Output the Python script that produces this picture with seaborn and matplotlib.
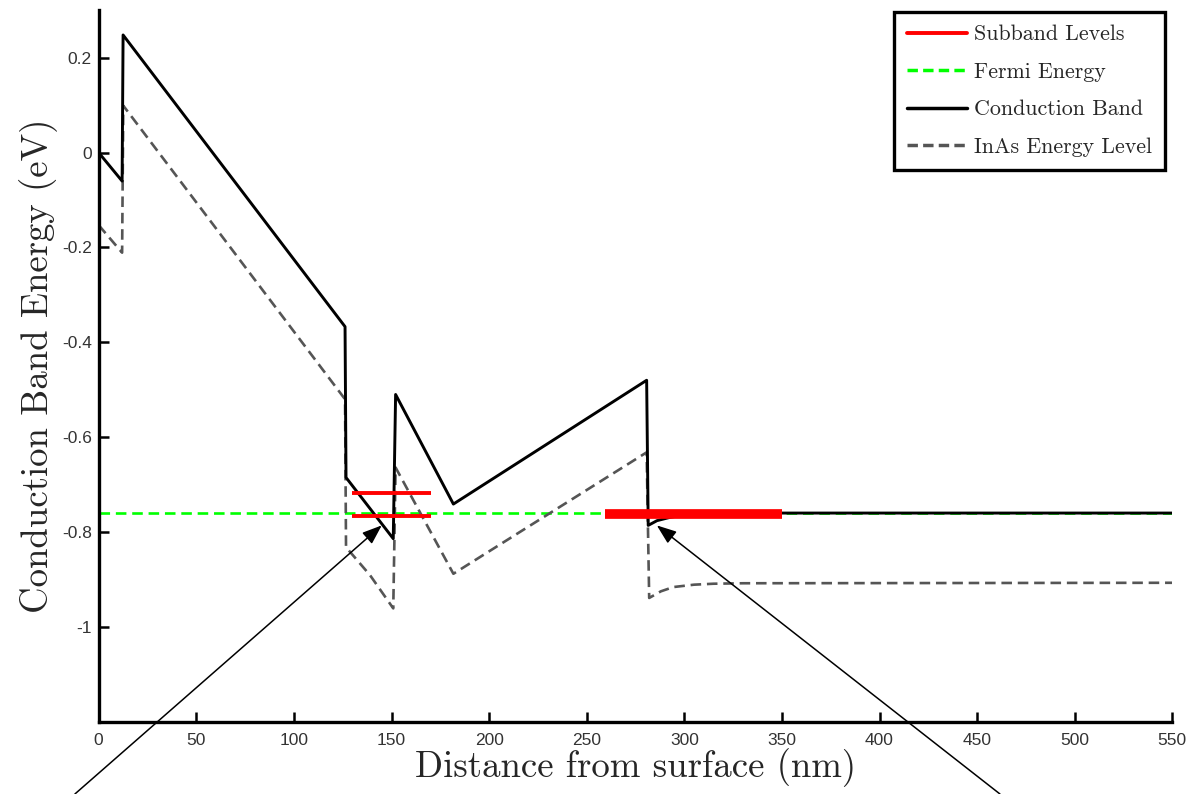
import numpy as np
import pandas as pd
import seaborn as sns
import matplotlib.pyplot as plt
from matplotlib.lines import Line2D

# conduction band profile (nm, eV)
cb_x = [0, 12.0, 12.5, 126.2, 126.7, 150.9, 152.1, 181.7, 280.7, 281.5, 286, 292.7, 300, 320, 350, 550]
cb_y = [0.0, -0.06, 0.248, -0.367, -0.685, -0.814, -0.51, -0.741, -0.48, -0.786, -0.776, -0.769, -0.764, -0.761, -0.760, -0.760]

# InAs energy level profile
inas_x = [0, 12.0, 12.6, 126.2, 126.7, 139.0, 150.9, 152.1, 181.7, 280.7, 282.0, 288, 294.4, 305, 314.9, 330, 550]
inas_y = [-0.153, -0.211, 0.099, -0.52, -0.832, -0.891, -0.961, -0.664, -0.888, -0.632, -0.939, -0.925, -0.916, -0.911, -0.909, -0.908, -0.907]

# Fermi energy
fermi_x = [0, 550]
fermi_y = [-0.76, -0.76]

# subband levels: start, end, energy
sub_start = [129.6, 129.6, 259.5]
sub_end = [170.0, 170.0, 350.0]
sub_energy = [-0.718, -0.766, -0.762]
sub_width = [2.8, 2.8, 7.0]

# arrow tips (data) and tails (figure fraction)
arrow_tips = [(145.0, -0.786), (285.9, -0.786)]
arrow_tails = [(0.063, 0.0), (0.841, 0.0)]

sns.set_style('white')
plt.rcParams['font.family'] = ['Liberation Sans', 'DejaVu Sans']

fig = plt.figure(figsize=(11.89, 7.94), dpi=100)
ax = fig.add_axes([0.083, 0.091, 0.903, 0.896])

cb = pd.DataFrame({'x': cb_x, 'y': cb_y})
inas = pd.DataFrame({'x': inas_x, 'y': inas_y})
fermi = pd.DataFrame({'x': fermi_x, 'y': fermi_y})

sns.lineplot(data=fermi, x='x', y='y', estimator=None, sort=False, color='#00ff00', lw=1.9,
             linestyle=(0, (4, 2.2)), ax=ax, zorder=2)
sns.lineplot(data=inas, x='x', y='y', estimator=None, sort=False, color='#555555', lw=1.9,
             linestyle=(0, (4, 2.2)), ax=ax, zorder=2)
sns.lineplot(data=cb, x='x', y='y', estimator=None, sort=False, color='black', lw=2.1, ax=ax, zorder=3)
for s, e, en, w in zip(sub_start, sub_end, sub_energy, sub_width):
    ax.plot([s, e], [en, en], color='#ff0000', lw=w, solid_capstyle='butt', zorder=4)

for tip, tail in zip(arrow_tips, arrow_tails):
    ax.annotate('', xy=tip, xycoords='data', xytext=tail, textcoords='figure fraction',
                arrowprops=dict(arrowstyle='-|>,head_length=1.2,head_width=0.45', color='black', lw=1.1,
                                shrinkA=0, shrinkB=0),
                annotation_clip=False, zorder=6)

ax.set_xlim(0, 550)
ax.set_ylim(-1.2, 0.3)
ax.set_xticks(np.arange(0, 551, 50))
ax.set_yticks([0.2, 0, -0.2, -0.4, -0.6, -0.8, -1])
ax.set_yticklabels(['0.2', '0', '-0.2', '-0.4', '-0.6', '-0.8', '-1'])
ax.tick_params(bottom=True, left=True, direction='in', length=7, width=1.8, labelsize=12.5,
               colors='black', labelcolor='#333333')
ax.tick_params(axis='x', pad=8)
ax.tick_params(axis='y', pad=5)
for side in ['top', 'right']:
    ax.spines[side].set_visible(False)
for side in ['left', 'bottom']:
    ax.spines[side].set_linewidth(2.4)
    ax.spines[side].set_color('black')

ax.set_xlabel('Distance from surface (nm)', family='cmr10', fontsize=26.5, labelpad=0)
ax.set_ylabel('Conduction Band Energy (eV)', family='cmr10', fontsize=26.5, labelpad=3)

handles = [
    Line2D([], [], color='#ff0000', lw=2.8),
    Line2D([], [], color='#00ff00', lw=2.5, linestyle=(0, (3, 1.5))),
    Line2D([], [], color='black', lw=2.5),
    Line2D([], [], color='#555555', lw=2.5, linestyle=(0, (3, 1.5))),
]
labels = ['Subband Levels', 'Fermi Energy', 'Conduction Band', 'InAs Energy Level']
leg = ax.legend(handles, labels, loc='upper right', bbox_to_anchor=(0.9935, 0.998),
                prop={'family': 'cmr10', 'size': 15.8},
                frameon=True, fancybox=False, framealpha=1, edgecolor='black', handlelength=2.7,
                handletextpad=0.35, labelspacing=0.82, borderpad=0.6, borderaxespad=0)
leg.get_frame().set_linewidth(2.4)

fig.savefig('out.png', dpi=100)
